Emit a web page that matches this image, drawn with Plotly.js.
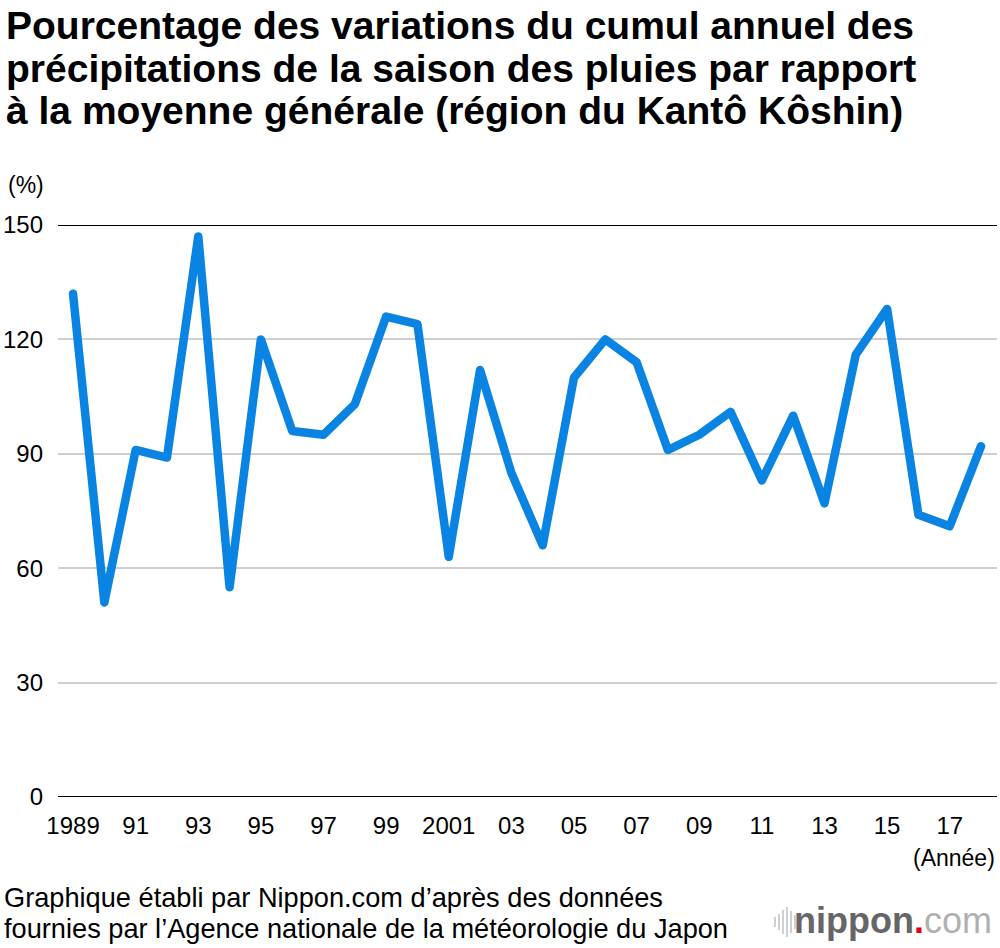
<!DOCTYPE html>
<html><head><meta charset="utf-8">
<script src="https://cdn.plot.ly/plotly-3.0.1.min.js"></script>
<style>html,body{margin:0;padding:0;background:#fff}#chart{width:1000px;height:948px}
.scatterlayer path.js-line{stroke-linejoin:round !important;stroke-linecap:round !important}</style>
</head><body><div id="chart"></div>
<script>
const years = [1989,1990,1991,1992,1993,1994,1995,1996,1997,1998,1999,2000,2001,2002,2003,2004,2005,2006,2007,2008,2009,2010,2011,2012,2013,2014,2015,2016,2017,2018];
const values = [132,51,91,89,147,55,120,96,95,103,126,124,63,112,85,66,110,120,114,91,95,101,83,100,77,116,128,74,71,92];
const xTickVals = [1989,1991,1993,1995,1997,1999,2001,2003,2005,2007,2009,2011,2013,2015,2017];
const xTickText = ["1989","91","93","95","97","99","2001","03","05","07","09","11","13","15","17"];
const yTickVals = [0,30,60,90,120,150];
const titleLines = ["Pourcentage des variations du cumul annuel des","précipitations de la saison des pluies par rapport","à la moyenne générale (région du Kantô Kôshin)"];
const sourceLines = ["Graphique établi par Nippon.com d’après des données","fournies par l’Agence nationale de la météorologie du Japon"];

const W=1000,H=948,L=58,R=3,T=225,B=151;
const pw=W-L-R, ph=H-T-B;
const px=x=>(x-L)/pw, py=y=>(H-B-y)/ph;
const FONT='"Liberation Sans", Arial, sans-serif';

const trace = {x:years,y:values,type:'scatter',mode:'lines',
  line:{color:'#0984e3',width:8.5},hoverinfo:'skip'};

const shapes=[];
[0,150].forEach(v=>shapes.push({type:'line',xref:'paper',yref:'y',x0:0,x1:1,y0:v,y1:v,line:{color:'#000',width:2},layer:'below'}));
const bars=[[775,10],[779,16],[783,24],[787,30],[791,22],[795,14]];
bars.forEach(b=>shapes.push({type:'line',xref:'paper',yref:'paper',x0:px(b[0]),x1:px(b[0]),y0:py(922-b[1]/2),y1:py(922+b[1]/2),line:{color:'#c4c4c4',width:1.6}}));

const annotations=[
 {text:'(%)',xref:'paper',yref:'paper',x:px(6),y:py(185),xanchor:'left',yanchor:'middle',showarrow:false,font:{family:FONT,size:23,color:'#000'}},
 {text:'(Année)',xref:'paper',yref:'paper',x:px(997),y:py(858),xanchor:'right',yanchor:'middle',showarrow:false,font:{family:FONT,size:23,color:'#000'}},
 {text:'<b>nippon</b><span style="color:#e60012"><b>.</b></span><span style="color:#b0b0b0">com</span>',xref:'paper',yref:'paper',x:px(994),y:py(920),xanchor:'right',yanchor:'middle',showarrow:false,font:{family:FONT,size:36,color:'#666'}}
];
const titleY=[25,68,111];
titleLines.forEach((t,i)=>annotations.push({text:'<b>'+t+'</b>',xref:'paper',yref:'paper',x:px(4),y:py(titleY[i]),xanchor:'left',yanchor:'middle',showarrow:false,font:{family:FONT,size:39,color:'#000'}}));
const srcY=[897,928];
sourceLines.forEach((t,i)=>annotations.push({text:t,xref:'paper',yref:'paper',x:px(2),y:py(srcY[i]),xanchor:'left',yanchor:'middle',showarrow:false,font:{family:FONT,size:27.2,color:'#000'}}));

const layout={
 width:W,height:H,margin:{l:L,r:R,t:T,b:B},paper_bgcolor:'#fff',plot_bgcolor:'#fff',
 showlegend:false,
 xaxis:{range:[1988.52,2018.51],tickvals:xTickVals,ticktext:xTickText,showgrid:false,zeroline:false,showline:false,ticks:'',
   tickfont:{family:FONT,size:24,color:'#000'},ticklabelstandoff:12,fixedrange:true},
 yaxis:{range:[0,150],tickvals:yTickVals,showgrid:true,gridcolor:'#cfcfcf',gridwidth:2,zeroline:false,showline:false,ticks:'',
   tickfont:{family:FONT,size:24,color:'#000'},ticklabelstandoff:14,fixedrange:true},
 shapes:shapes,annotations:annotations
};
Plotly.newPlot('chart',[trace],layout,{displayModeBar:false,staticPlot:true});
</script></body></html>
